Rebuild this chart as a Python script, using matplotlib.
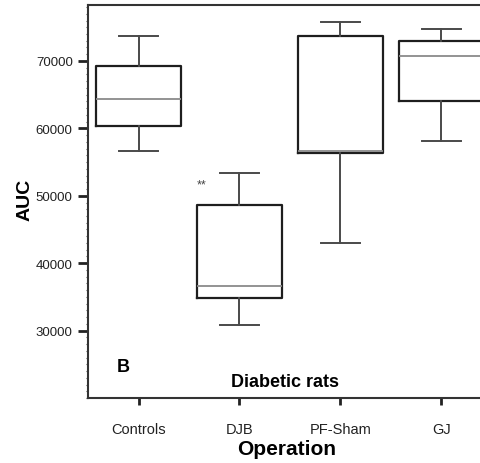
import matplotlib
matplotlib.use("Agg")
import matplotlib.pyplot as plt
from matplotlib.ticker import MultipleLocator

groups = ["Controls", "DJB", "PF-Sham", "GJ"]
whisk_lo = [56700, 30900, 43000, 58100]
q1 = [60300, 34800, 56400, 64000]
median = [64400, 36600, 56700, 70700]
q3 = [69200, 48600, 73700, 73000]
whisk_hi = [73700, 53400, 75800, 74700]
yticks = [30000, 40000, 50000, 60000, 70000]

plt.rcParams['font.family'] = ['Liberation Sans', 'DejaVu Sans']

fig = plt.figure(figsize=(4.81, 4.64), dpi=100)
ax = fig.add_axes([88 / 481, 65 / 464, 404 / 481, 393 / 464])

stats = []
for i, g in enumerate(groups):
    stats.append({
        'label': g,
        'whislo': whisk_lo[i],
        'q1': q1[i],
        'med': median[i],
        'q3': q3[i],
        'whishi': whisk_hi[i],
        'fliers': [],
    })

ax.bxp(stats, positions=[1, 2, 3, 4], widths=0.84, capwidths=0.39,
       showfliers=False,
       boxprops=dict(color='#1e1e1e', linewidth=1.6),
       whiskerprops=dict(color='#4a4a4a', linewidth=1.4),
       capprops=dict(color='#4a4a4a', linewidth=1.4),
       medianprops=dict(color='#8a8a8a', linewidth=1.3))

ax.set_xlim(0.5, 4.5)
ax.set_ylim(20000, 78300)
ax.set_yticks(yticks)
ax.set_yticklabels([str(v) for v in yticks])
ax.yaxis.set_minor_locator(MultipleLocator(1000))
ax.tick_params(axis='y', which='major', length=7, width=2, labelsize=9.5, pad=4, colors='#222222')
ax.tick_params(axis='y', which='minor', length=1.5, width=0.8, color='#555555')
ax.tick_params(axis='x', which='major', length=5, width=2, labelsize=10.5, pad=12, colors='#222222')

for s in ['left', 'bottom', 'top']:
    ax.spines[s].set_color('#333333')
    ax.spines[s].set_linewidth(1.5)
ax.spines['right'].set_visible(False)

ax.text(1.62, 51700, "**", fontsize=9, color='#444444', ha='center', va='center')
ax.text(0.85, 24700, "B", fontsize=13, fontweight='bold', ha='center', va='center')
ax.text(2.45, 22400, "Diabetic rats", fontsize=13, fontweight='bold', ha='center', va='center')

fig.text(287 / 481, 1 - 450 / 464, "Operation", fontsize=15, fontweight='bold',
         ha='center', va='center')
fig.text(25 / 481, 1 - 200 / 464, "AUC", fontsize=14, fontweight='bold',
         rotation=90, ha='center', va='center')

fig.savefig('out.png', dpi=100)
plt.close(fig)
